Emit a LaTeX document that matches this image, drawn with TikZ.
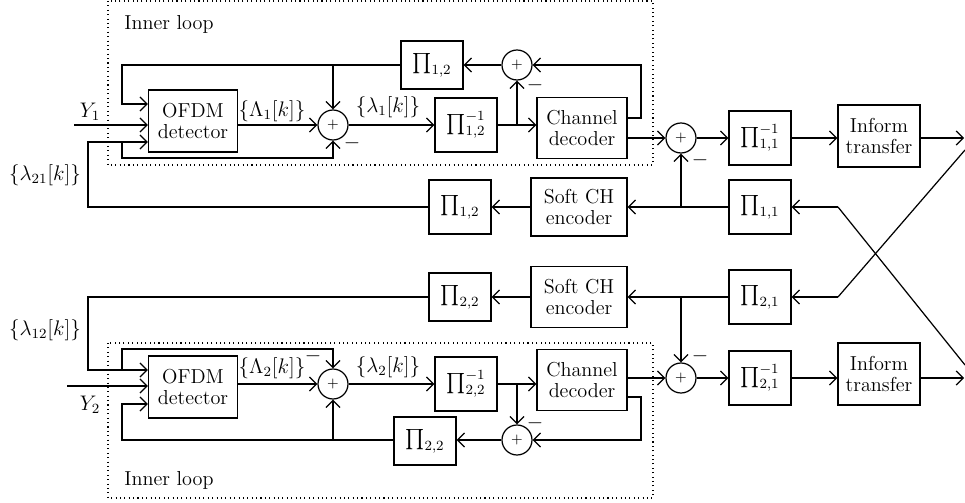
\documentclass[tikz,border=0pt]{standalone}
\usepackage{amsmath, amssymb}
\usetikzlibrary{arrows.meta}
\tikzset{
  blk/.style = {draw, align = center, inner sep = 1pt},
  ofdmbox/.style = {blk, minimum width = 1.78cm, minimum height = 1.24cm},
  decbox/.style = {blk, minimum width = 1.8cm, minimum height = 1.22cm},
  encbox/.style = {blk, minimum width = 1.92cm, minimum height = 1.16cm},
  infbox/.style = {blk, minimum width = 1.64cm, minimum height = 1.24cm},
  pibox/.style = {blk, minimum width = 1.24cm, minimum height = 1.08cm},
  pishort/.style = {blk, minimum width = 1.24cm, minimum height = 0.96cm},
  sumnode/.style = {draw, circle, minimum size = 0.6cm, inner sep = 0pt, font = \footnotesize},
  arr/.style = {-{Straight Barb[length = 4pt, width = 8pt]}},
  loopbox/.style = {line width = 0.6pt, dash pattern = on 0.6pt off 1.9pt}
}

\begin{document}
\begin{tikzpicture}[x = 0.02cm, y = -0.02cm, line width = 0.7pt,
    font = \fontsize{11.5}{12.5}\selectfont]
  \useasboundingbox (0,0) rectangle (965,503);
  \draw[loopbox] (108,1) rectangle (653,165);
  \draw[loopbox] (108,343) rectangle (653,498);
  \node (loopA) at (169,24) {Inner loop};
  \node (loopB) at (169,480) {Inner loop};

  % user 1
  \node[ofdmbox] (ofdmA) at (193,121) {OFDM\\detector};
  \node[sumnode] (sumA) at (333,125) {$+$};
  \node[pibox] (piAinv) at (466,125) {$\prod_{1,2}^{-1}$};
  \node[pishort] (piAfb) at (432,65) {$\prod_{1,2}$};
  \node[sumnode] (sumB) at (517,65) {$+$};
  \node[decbox] (decA) at (582,128) {Channel\\decoder};
  \node[sumnode] (sumC) at (681,138) {$+$};
  \node[pibox] (piC) at (760,138) {$\prod_{1,1}^{-1}$};
  \node[infbox] (infA) at (879,136) {Inform\\transfer};
  \node[pibox] (piD) at (760,207) {$\prod_{1,1}$};
  \node[encbox] (encA) at (579,207) {Soft CH\\encoder};
  \node[pibox] (piE) at (460,207) {$\prod_{1,2}$};

  \node (yAlbl) at (90,112) {$Y_1$};
  \node (lamA) at (272,111) {$\{\Lambda_1[k]\}$};
  \node (lamB) at (388,107) {$\{\lambda_1[k]\}$};
  \node (lamC) at (45,175) {$\{\lambda_{21}[k]\}$};
  \node (mA) at (352,143) {$-$};
  \node (mB) at (535,85) {$-$};
  \node (mC) at (700,160) {$-$};

  \coordinate (yA) at (74,125);
  \coordinate (inA) at (122,104);
  \coordinate (inB) at (122,142);
  \coordinate (lowA) at (333,158);
  \coordinate (turnA) at (88,142);
  \coordinate (brA) at (517,125);
  \coordinate (fbA) at (641,118);
  \coordinate (outA) at (964,138);
  \coordinate (xA) at (838,207);
  \coordinate (xAend) at (965,365);

  \draw[arr] (yA) -- (yA -| ofdmA.west);
  \draw[arr] (ofdmA.east |- sumA) -- (sumA.west);
  \draw[arr] (sumA.east) -- (piAinv.west);
  \draw[arr] (piAinv.east) -- (piAinv.east -| decA.west);
  \draw[arr] (brA) -- (sumB.south);
  \draw[arr] (decA.east |- fbA) -- (fbA) |- (sumB.east);
  \draw[arr] (sumB.west) -- (piAfb.east);
  \draw[arr] (piAfb.west) -| (inA) -- (inA -| ofdmA.west);
  \draw[arr] (sumA |- piAfb.west) -- (sumA.north);
  \draw[arr] (inB) |- (lowA) -- (sumA.south);
  \draw[arr] (piE.west) -| (turnA) -- (turnA -| ofdmA.west);
  \draw[arr] (decA.east |- sumC) -- (sumC.west);
  \draw[arr] (sumC.east) -- (piC.west);
  \draw[arr] (piC.east) -- (infA.west |- piC.east);
  \draw[arr] (infA.east |- outA) -- (outA);
  \draw[arr] (xA) -- (piD.east);
  \draw (xA) -- (xAend);
  \draw[arr] (piD.west) -- (encA.east);
  \draw[arr] (sumC |- piD) -- (sumC.south);
  \draw[arr] (encA.west) -- (piE.east);

  % user 2
  \node[pishort] (piF) at (460,297) {$\prod_{2,2}$};
  \node[encbox, minimum height = 1.22cm] (encB) at (579,297) {Soft CH\\encoder};
  \node[pibox] (piG) at (760,297) {$\prod_{2,1}$};
  \node[sumnode] (sumD) at (681,378) {$+$};
  \node[pibox] (piH) at (760,378) {$\prod_{2,1}^{-1}$};
  \node[infbox] (infB) at (879,374) {Inform\\transfer};
  \node[ofdmbox] (ofdmB) at (193,387) {OFDM\\detector};
  \node[sumnode] (sumE) at (333,384) {$+$};
  \node[pibox] (piI) at (466,384) {$\prod_{2,2}^{-1}$};
  \node[decbox] (decB) at (582,380) {Channel\\decoder};
  \node[sumnode] (sumF) at (517,440) {$+$};
  \node[pishort] (piJ) at (425,441) {$\prod_{2,2}$};

  \node (yBlbl) at (90,405) {$Y_2$};
  \node (lamD) at (272,368) {$\{\Lambda_2[k]\}$};
  \node (lamE) at (388,367) {$\{\lambda_2[k]\}$};
  \node (lamF) at (45,330) {$\{\lambda_{12}[k]\}$};
  \node (mD) at (313,356) {$-$};
  \node (mE) at (535,423) {$-$};
  \node (mF) at (700,356) {$-$};

  \coordinate (yB) at (67,386);
  \coordinate (inC) at (122,370);
  \coordinate (topB) at (333,349);
  \coordinate (inD) at (122,404);
  \coordinate (turnB) at (88,370);
  \coordinate (brB) at (517,384);
  \coordinate (fbB) at (641,397);
  \coordinate (outB) at (964,378);
  \coordinate (xB) at (838,297);
  \coordinate (xBend) at (965,150);

  \draw[arr] (yB) -- (yB -| ofdmB.west);
  \draw[arr] (piF.west) -| (turnB) -- (turnB -| ofdmB.west);
  \draw[arr] (inC) |- (topB) -- (sumE.north);
  \draw[arr] (ofdmB.east |- sumE) -- (sumE.west);
  \draw[arr] (sumE.east) -- (piI.west);
  \draw[arr] (piI.east) -- (piI.east -| decB.west);
  \draw[arr] (brB) -- (sumF.north);
  \draw[arr] (decB.east |- fbB) -- (fbB) |- (sumF.east);
  \draw[arr] (sumF.west) -- (piJ.east |- sumF);
  \draw[arr] (piJ.west |- sumF) -| (inD) -- (inD -| ofdmB.west);
  \draw[arr] (sumE |- sumF) -- (sumE.south);
  \draw[arr] (decB.east |- sumD) -- (sumD.west);
  \draw[arr] (sumD.east) -- (piH.west);
  \draw[arr] (piH.east) -- (infB.west |- piH.east);
  \draw[arr] (infB.east |- outB) -- (outB);
  \draw[arr] (xB) -- (piG.east);
  \draw (xB) -- (xBend);
  \draw[arr] (piG.west) -- (encB.east);
  \draw[arr] (sumD |- piG) -- (sumD.north);
  \draw[arr] (encB.west) -- (piF.east);
\end{tikzpicture}
\end{document}
